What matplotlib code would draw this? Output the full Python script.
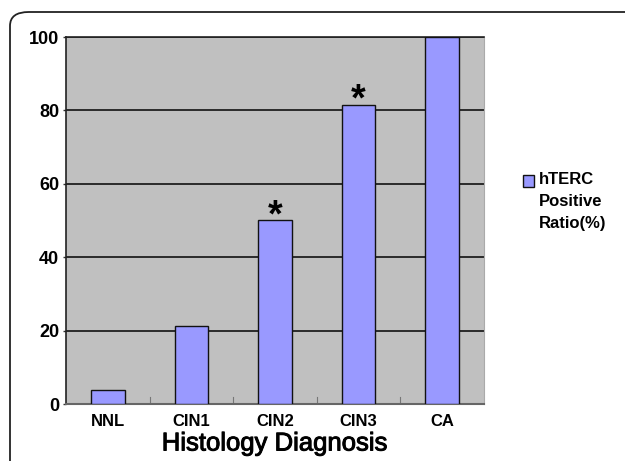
import matplotlib
matplotlib.use("Agg")
import matplotlib.pyplot as plt
import matplotlib.patheffects as pe
from matplotlib.patches import FancyBboxPatch, Rectangle

categories = ["NNL", "CIN1", "CIN2", "CIN3", "CA"]
values = [3.8, 21.2, 50.0, 81.6, 100.0]
significant = [False, False, True, True, False]
yticks = [0, 20, 40, 60, 80, 100]
series_label = "hTERC\nPositive\nRatio(%)"

plt.rcParams['font.family'] = ['Liberation Sans', 'DejaVu Sans']

fig = plt.figure(figsize=(6.25, 4.61), dpi=100)
W, H = 625, 461
ax = fig.add_axes([66 / W, 1 - 404 / H, (484 - 66) / W, (404 - 37) / H])

# outer rounded frame
frame = FancyBboxPatch((10 / W, -0.2), 1.2, (461 - 12) / H + 0.2,
                       boxstyle="round,pad=0,rounding_size=0.03",
                       transform=fig.transFigure, fill=False,
                       edgecolor="#222222", linewidth=1.3, clip_on=False)
fig.patches.append(frame)

ax.set_facecolor("#c0c0c0")
x = list(range(len(categories)))
ax.bar(x, values, width=0.4, color="#9999ff", edgecolor="#111111",
       linewidth=1.0, zorder=3)
ax.set_xlim(-0.5, len(categories) - 0.5)
ax.set_ylim(0, 100)
ax.set_yticks(yticks)
ax.set_yticklabels([str(t) for t in yticks], fontsize=13, fontweight="bold")
ax.yaxis.grid(True, color="#111111", linewidth=1.2, zorder=1)
ax.set_axisbelow(True)

ax.set_xticks(x)
ax.set_xticklabels(categories, fontsize=12, fontweight="bold")
ax.tick_params(axis="x", length=0, pad=7)
ax.tick_params(axis="y", length=2, width=1, color="#333333", pad=3)
for b in [0.5, 1.5, 2.5, 3.5]:
    ax.plot([b, b], [0, 2], color="#777777", linewidth=0.8, zorder=2)

ax.spines["left"].set_color("#222222")
ax.spines["left"].set_linewidth(1.2)
ax.spines["bottom"].set_color("#666666")
ax.spines["bottom"].set_linewidth(1.5)
ax.spines["right"].set_color("#aaaaaa")
ax.spines["top"].set_color("#222222")
ax.spines["top"].set_linewidth(1.2)

for xi, v, s in zip(x, values, significant):
    if s:
        ax.text(xi, v - 1.6, "*", ha="center", va="baseline", fontsize=27,
                fontweight="bold", color="black", zorder=4)

xl = ax.set_xlabel("Histology Diagnosis", fontsize=18.5, labelpad=2)
xl.set_path_effects([pe.withStroke(linewidth=0.7, foreground="black")])

# legend
fig.patches.append(Rectangle((523 / W, 1 - 187 / H), 11 / W, 12 / H,
                             transform=fig.transFigure, facecolor="#9999ff",
                             edgecolor="#111111", linewidth=1.0))
fig.text(539 / W, 1 - 172 / H, series_label, ha="left", va="top",
         fontsize=12, fontweight="bold", linespacing=1.6)

fig.savefig("out.png", dpi=100)
